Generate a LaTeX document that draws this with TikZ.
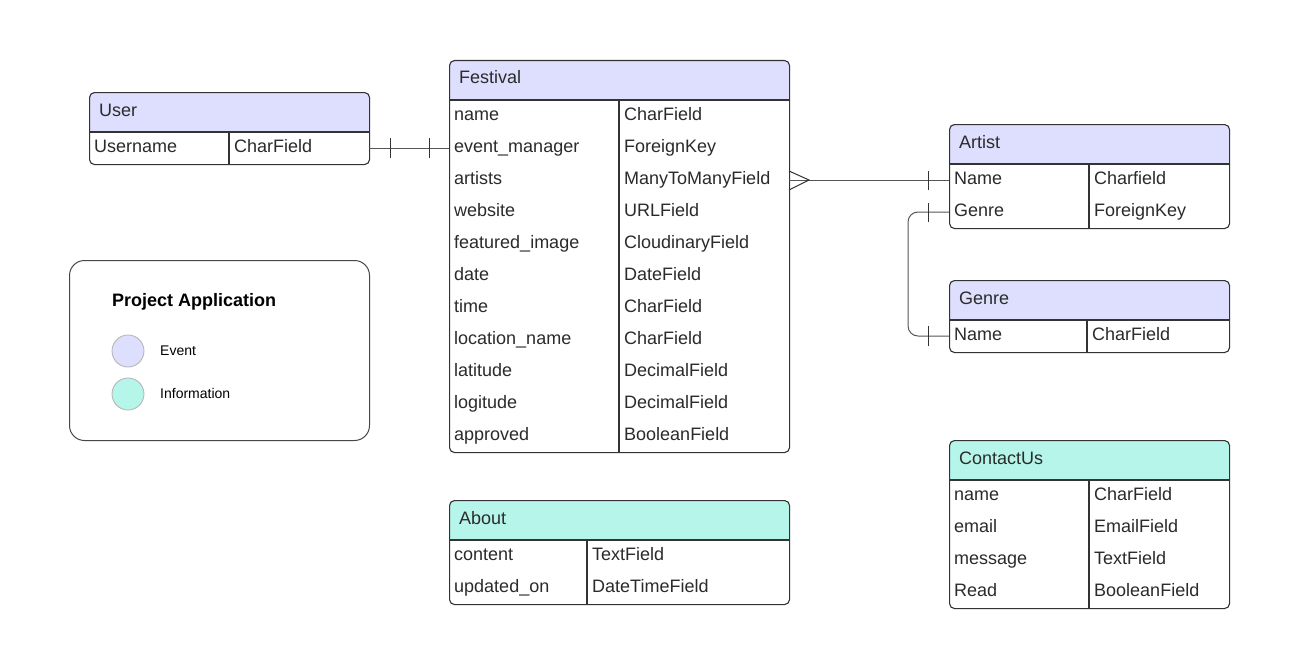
\documentclass[tikz,border=0pt]{standalone}
\usepackage{fontspec}
\setmainfont{Liberation Sans}
\usetikzlibrary{calc}
\definecolor{eventc}{HTML}{DEDEFF}
\definecolor{infoc}{HTML}{B5F5EA}
\definecolor{edgec}{HTML}{333333}
\definecolor{txtc}{HTML}{2B2B2B}
\definecolor{connc}{HTML}{555555}
\tikzset{
  tbox/.style={draw=edgec, line width=1.1pt, rounded corners=5pt, inner sep=0pt, anchor=north west},
  hdr/.style={font=\fontsize{18}{20}\selectfont, text=txtc, anchor=base west, inner sep=0pt},
  cell/.style={font=\fontsize{18}{20}\selectfont, text=txtc, anchor=base west, inner sep=0pt},
  conn/.style={draw=connc, line width=1pt},
  tickln/.style={draw=edgec, line width=1pt},
  legtxt/.style={font=\fontsize{14}{16}\selectfont, text=black, anchor=base west, inner sep=0pt},
  legdot/.style={circle, draw=black!30, line width=0.8pt, minimum size=32pt, inner sep=0pt}
}
% #1 name, #2 x, #3 y, #4 width, #5 divider x, #6 rows, #7 fill, #8 title, #9 row list
\newcommand{\ertable}[9]{%
  \pgfmathsetmacro{\tbh}{40+32*#6}
  \begin{scope}
    \clip[rounded corners=5pt] (#2,#3) rectangle ++(#4,\tbh);
    \fill[#7] (#2,#3) rectangle ++(#4,40);
  \end{scope}
  \node[tbox, minimum width=#4pt, minimum height=\tbh pt] (#1) at (#2,#3) {};
  \draw[draw=edgec, line width=1.1pt] (#2,#3+40) -- ++(#4,0);
  \draw[draw=edgec, line width=1.1pt] (#5,#3+40) -- (#5,#3+\tbh);
  \node[hdr] (#1-title) at (#2+10,#3+24) {#8};
  \foreach \fa/\fb [count=\i] in {#9} {
    \node[cell] (#1-\i-a) at (#2+5,#3+40+32*\i-12) {\fa};
    \node[cell] (#1-\i-b) at (#5+5,#3+40+32*\i-12) {\fb};
    \coordinate (#1-\i-L) at (#2,#3+40+32*\i-16);
    \coordinate (#1-\i-R) at (#2+#4,#3+40+32*\i-16);
  }
}
\begin{document}
\begin{tikzpicture}[x=1pt,y=-1pt]
\fill[white] (0,0) rectangle (1290,669);
\useasboundingbox (0,0) rectangle (1290,669);

\ertable{user}{89}{92}{280}{229}{1}{eventc}{User}{Username/CharField}
\ertable{festival}{449}{60}{340}{619}{11}{eventc}{Festival}{name/CharField, event\_manager/ForeignKey, artists/ManyToManyField, website/URLField, featured\_image/CloudinaryField, date/DateField, time/CharField, location\_name/CharField, latitude/DecimalField, logitude/DecimalField, approved/BooleanField}
\ertable{artist}{949}{124}{280}{1089}{2}{eventc}{Artist}{Name/Charfield, Genre/ForeignKey}
\ertable{genre}{949}{280}{280}{1087}{1}{eventc}{Genre}{Name/CharField}
\ertable{about}{449}{500}{340}{587}{2}{infoc}{About}{content/TextField, updated\_on/DateTimeField}
\ertable{contact}{949}{440}{280}{1089}{4}{infoc}{ContactUs}{name/CharField, email/EmailField, message/TextField, Read/BooleanField}

% legend
\node[draw=edgec!90, line width=1pt, rounded corners=15pt, minimum width=300pt, minimum height=180pt, inner sep=0pt, anchor=north west] (legend) at (69,260) {};
\node[font=\bfseries\fontsize{18}{20}\selectfont, anchor=base west, inner sep=0pt] (legtitle) at (112,306) {Project Application};
\node[legdot, fill=eventc] (dotevent) at (128,351) {};
\node[legdot, fill=infoc] (dotinfo) at (128,394) {};
\node[legtxt] (lblevent) at (160,355) {Event};
\node[legtxt] (lblinfo) at (160,398) {Information};

% User -- Festival (one to one)
\draw[conn] (user-1-R) -- (festival-2-L);
\draw[tickln] ([xshift=21pt,yshift=-10pt]user-1-R) -- ([xshift=21pt,yshift=10pt]user-1-R);
\draw[tickln] ([xshift=-20pt,yshift=-10pt]festival-2-L) -- ([xshift=-20pt,yshift=10pt]festival-2-L);

% Festival -- Artist (many to one)
\draw[conn] (festival-3-R) -- (artist-1-L);
\draw[tickln] ([yshift=-10pt]festival-3-R) -- ([xshift=20pt]festival-3-R) -- ([yshift=9pt]festival-3-R);
\draw[tickln] ([xshift=-21pt,yshift=-10pt]artist-1-L) -- ([xshift=-21pt,yshift=9pt]artist-1-L);

% Artist.Genre -- Genre.Name
\draw[conn, rounded corners=10pt] (artist-2-L) -- ++(-41,0) |- (genre-1-L);
\draw[tickln] ([xshift=-21pt,yshift=-10pt]artist-2-L) -- ([xshift=-21pt,yshift=9pt]artist-2-L);
\draw[tickln] ([xshift=-21pt,yshift=-10pt]genre-1-L) -- ([xshift=-21pt,yshift=10pt]genre-1-L);
\end{tikzpicture}
\end{document}
